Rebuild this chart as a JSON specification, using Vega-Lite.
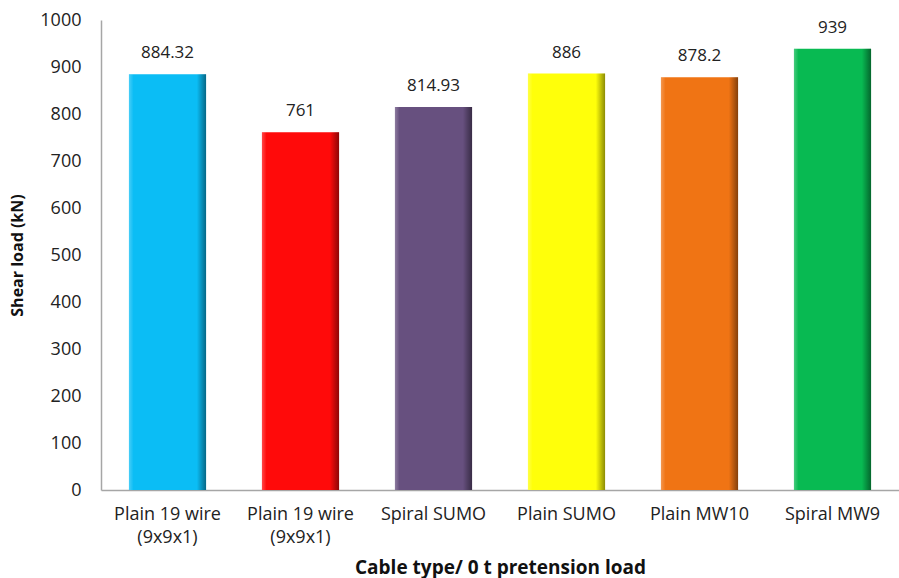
{
  "$schema": "https://vega.github.io/schema/vega-lite/v6.json",
  "autosize": "none",
  "width": 798,
  "height": 470,
  "padding": {"left": 101, "top": 20, "right": 0, "bottom": 88},
  "background": "white",
  "config": {
    "view": {"stroke": null},
    "font": "Open Sans",
    "axis": {"labelFont": "Open Sans", "titleFont": "Open Sans", "labelColor": "#222", "titleColor": "#111"}
  },
  "data": {
    "values": [
      {"id": 1, "cable": "Plain 19 wire (9x9x1)", "load": 884.32},
      {"id": 2, "cable": "Plain 19 wire (9x9x1)", "load": 761},
      {"id": 3, "cable": "Spiral SUMO", "load": 814.93},
      {"id": 4, "cable": "Plain SUMO", "load": 886},
      {"id": 5, "cable": "Plain MW10", "load": 878.2},
      {"id": 6, "cable": "Spiral MW9", "load": 939}
    ]
  },
  "encoding": {
    "x": {
      "field": "id",
      "type": "ordinal",
      "scale": {"paddingInner": 0.42, "paddingOuter": 0.21},
      "axis": {
        "title": "Cable type/ 0 t pretension load",
        "titleFontSize": 19,
        "titleFontWeight": "bold",
        "titlePadding": 12,
        "labelAngle": 0,
        "labelFontSize": 18,
        "labelPadding": 15,
        "labelLineHeight": 23,
        "ticks": false,
        "domainColor": "#A6A6A6",
        "domainWidth": 1.5,
        "labelExpr": "[['Plain 19 wire','(9x9x1)'],['Plain 19 wire','(9x9x1)'],'Spiral SUMO','Plain SUMO','Plain MW10','Spiral MW9'][datum.value-1]"
      }
    },
    "y": {
      "field": "load",
      "type": "quantitative",
      "scale": {"domain": [0, 1000]},
      "axis": {
        "title": "Shear load (kN)",
        "titleFontSize": 16,
        "titleFontWeight": "bold",
        "titlePadding": 14,
        "labelFontSize": 18,
        "labelPadding": 20,
        "labelOverlap": false,
        "labelFlush": false,
        "format": "d",
        "values": [0, 100, 200, 300, 400, 500, 600, 700, 800, 900, 1000],
        "ticks": false,
        "grid": false,
        "domainColor": "#A6A6A6",
        "domainWidth": 1.5
      }
    }
  },
  "layer": [
    {
      "mark": {"type": "bar"},
      "encoding": {
        "color": {
          "field": "id",
          "type": "ordinal",
          "scale": {"domain": [1, 2, 3, 4, 5, 6], "range": ["#0BBDF5", "#FF0A0A", "#67507F", "#FFFF0A", "#F07414", "#08BA52"]},
          "legend": null
        }
      }
    },
    {
      "mark": {
        "type": "bar",
        "fill": {
          "gradient": "linear", "x1": 0, "y1": 0, "x2": 1, "y2": 0,
          "stops": [
            {"offset": 0, "color": "rgba(255,255,255,0.25)"},
            {"offset": 0.06, "color": "rgba(255,255,255,0)"},
            {"offset": 0.88, "color": "rgba(0,0,0,0)"},
            {"offset": 1, "color": "rgba(0,0,0,0.45)"}
          ]
        }
      }
    },
    {
      "mark": {"type": "text", "baseline": "bottom", "dy": -12, "fontSize": 17, "color": "#222"},
      "encoding": {"text": {"field": "load", "type": "quantitative", "format": "~r"}}
    }
  ]
}
